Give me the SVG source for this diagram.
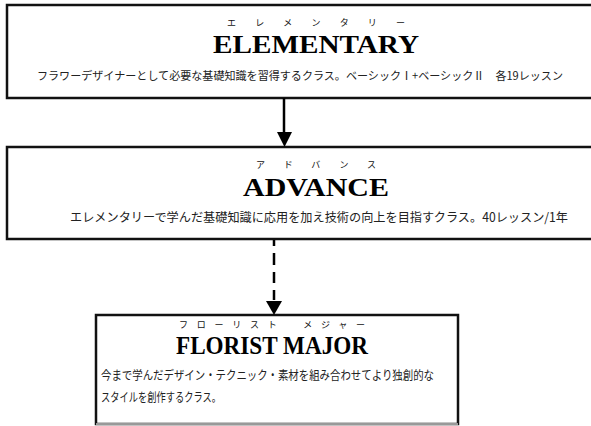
<svg xmlns="http://www.w3.org/2000/svg" width="591" height="426" viewBox="0 0 591 426">
<style>
.box{fill:#fff;stroke:#111;stroke-width:2.5}
.title{font-family:"Liberation Serif",serif;font-weight:bold;fill:#000}
.ruby{font-family:"Noto Sans CJK JP",sans-serif;font-size:9px;fill:#111}
.desc{font-family:"Noto Sans CJK JP",sans-serif;font-size:12.5px;fill:#222}
.desc1{font-size:11.3px}
.conn{stroke:#000;stroke-width:2.5;fill:none}
.head{fill:#000}
</style>
<g id="elementary">
<rect class="box" x="7" y="5" width="640" height="93"/>
<text class="ruby" x="316" y="26" text-anchor="middle" textLength="178" lengthAdjust="spacing">エレメンタリー</text>
<text class="title" x="316" y="53" text-anchor="middle" font-size="26" textLength="206" lengthAdjust="spacingAndGlyphs">ELEMENTARY</text>
<text class="desc desc1" x="37" y="80" textLength="526" lengthAdjust="spacingAndGlyphs">フラワーデザイナーとして必要な基礎知識を習得するクラス。ベーシックⅠ+ベーシックⅡ　各19レッスン</text>
</g>
<g id="advance">
<rect class="box" x="7" y="147" width="640" height="92"/>
<text class="ruby" x="316" y="168" text-anchor="middle" textLength="120" lengthAdjust="spacing">アドバンス</text>
<text class="title" x="316" y="196" text-anchor="middle" font-size="26" textLength="146" lengthAdjust="spacingAndGlyphs">ADVANCE</text>
<text class="desc" x="70" y="222" textLength="498" lengthAdjust="spacingAndGlyphs">エレメンタリーで学んだ基礎知識に応用を加え技術の向上を目指すクラス。40レッスン/1年</text>
</g>
<g id="florist-major">
<rect class="box" x="96" y="315" width="362" height="109"/>
<line x1="96" y1="424" x2="458" y2="424" stroke="#999" stroke-width="2"/>
<text class="ruby" x="272" y="328" text-anchor="middle" textLength="186" lengthAdjust="spacing">フローリスト　メジャー</text>
<text class="title" x="272" y="354" text-anchor="middle" font-size="26" textLength="192" lengthAdjust="spacingAndGlyphs">FLORIST MAJOR</text>
<text class="desc" x="101" y="380" textLength="333" lengthAdjust="spacingAndGlyphs">今まで学んだデザイン・テクニック・素材を組み合わせてより独創的な</text>
<text class="desc" x="101" y="402" textLength="120" lengthAdjust="spacingAndGlyphs">スタイルを創作するクラス。</text>
</g>
<g id="connectors">
<line class="conn" x1="284" y1="98" x2="284" y2="134"/>
<polygon class="head" points="277,132 292,132 284.5,147"/>
<path class="conn" d="M274,240 V302" stroke-dasharray="6,7,12,7,11,7,10,10"/>
<polygon class="head" points="266,301 282,301 274,315"/>
</g>
</svg>
